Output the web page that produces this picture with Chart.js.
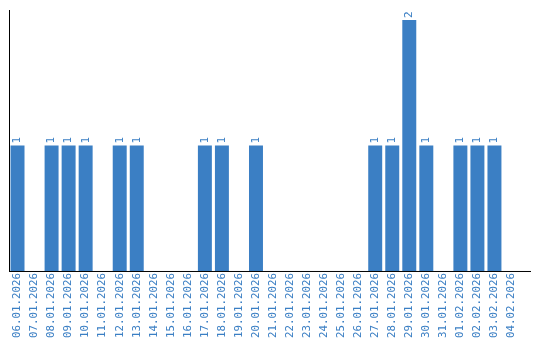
<!DOCTYPE html>
<html>
<head>
<meta charset="utf-8">
<script src="https://cdn.jsdelivr.net/npm/chart.js@4"></script>
<style>
    html, body { margin: 0; padding: 0; background: #fff; }
    #wrap { width: 540px; height: 340px; }
</style>
</head>
<body>
<div id="wrap"><canvas id="chart"></canvas></div>
<script>
// Data
const dates = [
    '06.01.2026', '07.01.2026', '08.01.2026', '09.01.2026', '10.01.2026',
    '11.01.2026', '12.01.2026', '13.01.2026', '14.01.2026', '15.01.2026',
    '16.01.2026', '17.01.2026', '18.01.2026', '19.01.2026', '20.01.2026',
    '21.01.2026', '22.01.2026', '23.01.2026', '24.01.2026', '25.01.2026',
    '26.01.2026', '27.01.2026', '28.01.2026', '29.01.2026', '30.01.2026',
    '31.01.2026', '01.02.2026', '02.02.2026', '03.02.2026', '04.02.2026'
];
const counts = [
    1, 0, 1, 1, 1,
    0, 1, 1, 0, 0,
    0, 1, 1, 0, 1,
    0, 0, 0, 0, 0,
    0, 1, 1, 2, 1,
    0, 1, 1, 1, 0
];
const yMax = 2.08;

const blue = '#3b7fc4';
const monoFont = '"DejaVu Sans Mono", monospace';

// value labels above bars, rotated like the ticks
const valueLabels = {
    id: 'valueLabels',
    afterDatasetsDraw(chart) {
        const ctx = chart.ctx;
        const meta = chart.getDatasetMeta(0);
        ctx.save();
        ctx.fillStyle = blue;
        ctx.font = '11px ' + monoFont;
        ctx.textAlign = 'left';
        ctx.textBaseline = 'middle';
        meta.data.forEach((bar, i) => {
            if (!counts[i]) return;
            ctx.save();
            ctx.translate(bar.x, bar.y - 2);
            ctx.rotate(-Math.PI / 2);
            ctx.fillText(String(counts[i]), 0, 0);
            ctx.restore();
        });
        ctx.restore();
    }
};

// x axis line runs a bit past the last category
const axisLine = {
    id: 'axisLine',
    afterDraw(chart) {
        const { ctx, chartArea } = chart;
        ctx.save();
        ctx.strokeStyle = '#000';
        ctx.lineWidth = 1;
        ctx.beginPath();
        ctx.moveTo(chartArea.left, chartArea.bottom + 0.5);
        ctx.lineTo(chartArea.right + 11, chartArea.bottom + 0.5);
        ctx.stroke();
        ctx.restore();
    }
};

new Chart(document.getElementById('chart'), {
    type: 'bar',
    data: {
        labels: dates,
        datasets: [{
            data: counts,
            backgroundColor: blue,
            borderWidth: 0,
            barPercentage: 0.82,
            categoryPercentage: 1
        }]
    },
    options: {
        responsive: true,
        maintainAspectRatio: false,
        animation: false,
        layout: { padding: { left: 9, right: 20, top: 10, bottom: 0 } },
        plugins: {
            legend: { display: false },
            tooltip: { enabled: false }
        },
        scales: {
            x: {
                grid: { display: false, drawTicks: false },
                border: { display: false },
                ticks: {
                    color: blue,
                    font: { family: monoFont, size: 10.8 },
                    minRotation: 90,
                    maxRotation: 90,
                    autoSkip: false,
                    padding: 2
                }
            },
            y: {
                min: 0,
                max: yMax,
                grid: { display: false, drawTicks: false },
                border: { display: true, color: '#000', width: 1 },
                ticks: { display: false }
            }
        }
    },
    plugins: [valueLabels, axisLine]
});
</script>
</body>
</html>
